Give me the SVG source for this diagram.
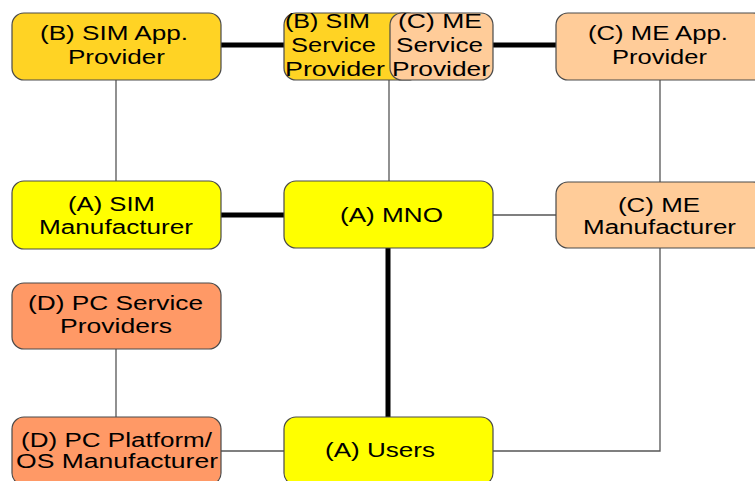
<svg xmlns="http://www.w3.org/2000/svg" width="755" height="481" viewBox="0 0 755 481">
  <style>
    .box { stroke: #4a4a4a; stroke-width: 1.2; }
    .gold { fill: #FFD324; }
    .yellow { fill: #FFFF00; }
    .peach { fill: #FFCC99; }
    .salmon { fill: #FF9966; }
    .thick { stroke: #000; stroke-width: 5; fill: none; }
    .thin { stroke: #555; stroke-width: 1.3; fill: none; }
    text { font-family: "Liberation Sans", Arial, sans-serif; font-size: 20px; fill: #000; }
  </style>
  <rect width="755" height="481" fill="#fff"/>

  <g id="connectors">
    <line class="thick" x1="221" y1="45" x2="284" y2="45"/>
    <line class="thick" x1="493" y1="45" x2="556" y2="45"/>
    <line class="thick" x1="221" y1="215" x2="284" y2="215"/>
    <line class="thick" x1="388" y1="248" x2="388" y2="417"/>
    <line class="thin" x1="116" y1="80" x2="116" y2="181"/>
    <line class="thin" x1="389" y1="80" x2="389" y2="181"/>
    <line class="thin" x1="660" y1="80" x2="660" y2="182"/>
    <line class="thin" x1="493" y1="215" x2="556" y2="215"/>
    <line class="thin" x1="116" y1="349" x2="116" y2="417"/>
    <line class="thin" x1="221" y1="451" x2="284" y2="451"/>
    <polyline class="thin" points="660,248 660,451 493,451"/>
  </g>

  <g id="sim-app-provider">
    <rect class="box gold" x="12" y="13" width="209" height="67" rx="12"/>
    <text x="40" y="40" textLength="148" lengthAdjust="spacingAndGlyphs">(B) SIM App.</text>
    <text x="68" y="64" textLength="97" lengthAdjust="spacingAndGlyphs">Provider</text>
  </g>

  <g id="sim-service-provider">
    <rect class="box gold" x="284" y="13" width="136" height="67" rx="12"/>
    <text x="285" y="28" textLength="85" lengthAdjust="spacingAndGlyphs">(B) SIM</text>
    <text x="291" y="52" textLength="85" lengthAdjust="spacingAndGlyphs">Service</text>
    <text x="285" y="76" textLength="100" lengthAdjust="spacingAndGlyphs">Provider</text>
  </g>

  <g id="me-service-provider">
    <rect class="box peach" x="390" y="13" width="103" height="67" rx="12"/>
    <text x="398" y="28" textLength="84" lengthAdjust="spacingAndGlyphs">(C) ME</text>
    <text x="396" y="52" textLength="87" lengthAdjust="spacingAndGlyphs">Service</text>
    <text x="392" y="76" textLength="98" lengthAdjust="spacingAndGlyphs">Provider</text>
  </g>

  <g id="me-app-provider">
    <rect class="box peach" x="556" y="13" width="209" height="67" rx="12"/>
    <text x="588" y="40" textLength="140" lengthAdjust="spacingAndGlyphs">(C) ME App.</text>
    <text x="612" y="64" textLength="95" lengthAdjust="spacingAndGlyphs">Provider</text>
  </g>

  <g id="sim-manufacturer">
    <rect class="box yellow" x="12" y="181" width="209" height="68" rx="12"/>
    <text x="68" y="211" textLength="87" lengthAdjust="spacingAndGlyphs">(A) SIM</text>
    <text x="39" y="234" textLength="154" lengthAdjust="spacingAndGlyphs">Manufacturer</text>
  </g>

  <g id="mno">
    <rect class="box yellow" x="284" y="181" width="209" height="67" rx="12"/>
    <text x="340" y="222" textLength="103" lengthAdjust="spacingAndGlyphs">(A) MNO</text>
  </g>

  <g id="me-manufacturer">
    <rect class="box peach" x="556" y="182" width="209" height="66" rx="12"/>
    <text x="618" y="212" textLength="82" lengthAdjust="spacingAndGlyphs">(C) ME</text>
    <text x="583" y="234" textLength="153" lengthAdjust="spacingAndGlyphs">Manufacturer</text>
  </g>

  <g id="pc-service-providers">
    <rect class="box salmon" x="12" y="283" width="209" height="66" rx="12"/>
    <text x="28" y="310" textLength="175" lengthAdjust="spacingAndGlyphs">(D) PC Service</text>
    <text x="60" y="333" textLength="112" lengthAdjust="spacingAndGlyphs">Providers</text>
  </g>

  <g id="pc-platform-os-manufacturer">
    <rect class="box salmon" x="12" y="417" width="209" height="68" rx="12"/>
    <text x="21" y="447" textLength="191" lengthAdjust="spacingAndGlyphs">(D) PC Platform/</text>
    <text x="16" y="468" textLength="202" lengthAdjust="spacingAndGlyphs">OS Manufacturer</text>
  </g>

  <g id="users">
    <rect class="box yellow" x="284" y="417" width="209" height="68" rx="12"/>
    <text x="325" y="457" textLength="110" lengthAdjust="spacingAndGlyphs">(A) Users</text>
  </g>
</svg>
